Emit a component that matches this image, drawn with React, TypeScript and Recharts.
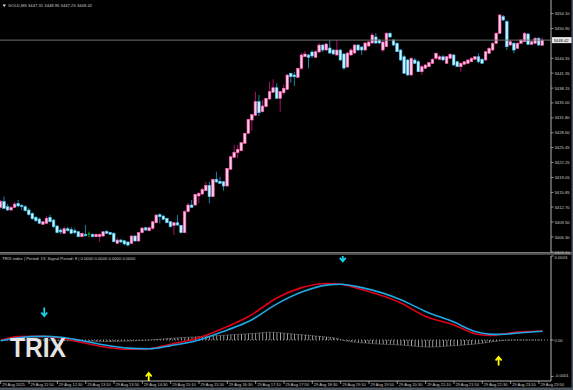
import React from 'react';
import { ComposedChart, Bar, Line, Area, Scatter, XAxis, YAxis, ReferenceLine } from 'recharts';

const FONT = '"Liberation Sans", Arial, sans-serif';
const TXT = '#c8c8c8';
const AXIS = '#b4b4b4';

// GOLD M5, 29 Aug 2025 11:10 .. 23:55 (index = candle number)
const opens = [
  3412.66, 3413.86, 3412.79, 3412.08, 3412.66, 3413.51, 3413.09, 3412.79, 3412.08, 3411.37,
  3410.52, 3410.16, 3409.02, 3409.24, 3410.52, 3409.94, 3408.66, 3407.80, 3407.10, 3408.08,
  3407.95, 3407.65, 3407.44, 3406.37, 3406.88, 3406.95, 3406.88, 3406.37, 3406.37, 3406.52,
  3407.53, 3407.31, 3407.10, 3404.96, 3405.66, 3405.51, 3405.24, 3404.96, 3406.52, 3405.45,
  3407.23, 3408.29, 3407.65, 3408.17, 3409.36, 3411.08, 3410.80, 3410.31, 3409.58, 3408.81,
  3409.36, 3408.81, 3407.23, 3411.72, 3413.15, 3413.15, 3415.08, 3415.50, 3416.21, 3417.36,
  3414.93, 3418.65, 3418.22, 3418.13, 3417.21, 3420.79, 3423.35, 3424.34, 3424.76, 3426.35,
  3428.49, 3431.33, 3432.34, 3435.25, 3433.11, 3434.18, 3435.82, 3437.26, 3438.24, 3435.97,
  3437.17, 3437.90, 3441.32, 3440.96, 3440.47, 3442.39, 3444.87, 3445.24, 3445.88, 3444.74,
  3445.88, 3447.37, 3446.30, 3446.73, 3446.30, 3445.24, 3446.30, 3445.45, 3442.67, 3445.24,
  3445.66, 3447.37, 3446.95, 3446.30, 3447.16, 3447.80, 3449.09, 3448.44, 3446.30, 3447.01,
  3449.88, 3448.44, 3447.74, 3446.30, 3444.87, 3444.17, 3440.96, 3444.17, 3443.80, 3441.66,
  3442.39, 3442.73, 3443.46, 3444.53, 3444.32, 3444.87, 3443.46, 3444.53, 3445.24, 3443.80,
  3442.73, 3443.25, 3443.46, 3443.80, 3444.32, 3444.87, 3444.32, 3444.17, 3445.60, 3446.30,
  3447.74, 3449.88, 3453.43, 3452.36, 3447.37, 3447.74, 3446.67, 3447.74, 3448.08, 3449.73,
  3447.52, 3447.74, 3448.81, 3447.31,
];
const highs = [
  3414.22, 3414.93, 3413.36, 3412.94, 3413.86, 3414.22, 3413.36, 3413.09, 3412.51, 3411.55,
  3410.80, 3410.43, 3409.73, 3410.80, 3411.08, 3410.16, 3408.87, 3408.17, 3408.51, 3408.51,
  3408.44, 3408.17, 3407.59, 3407.23, 3408.87, 3407.44, 3407.05, 3407.05, 3407.10, 3407.59,
  3407.80, 3407.44, 3407.38, 3406.09, 3405.94, 3405.66, 3405.39, 3406.67, 3406.73, 3407.38,
  3408.38, 3408.44, 3408.51, 3409.73, 3411.08, 3411.33, 3410.95, 3410.43, 3409.73, 3409.51,
  3411.01, 3408.87, 3412.08, 3413.64, 3414.22, 3415.57, 3416.00, 3416.79, 3418.13, 3418.13,
  3418.78, 3420.27, 3419.20, 3418.28, 3421.13, 3423.63, 3425.98, 3425.98, 3426.63, 3428.62,
  3431.61, 3432.62, 3437.39, 3436.68, 3435.61, 3436.10, 3439.52, 3440.04, 3439.18, 3437.54,
  3438.82, 3441.11, 3441.45, 3441.66, 3442.52, 3445.66, 3446.16, 3445.45, 3446.30, 3446.30,
  3447.80, 3447.59, 3447.80, 3448.44, 3446.52, 3448.44, 3446.52, 3445.66, 3445.88, 3446.73,
  3447.59, 3447.59, 3447.16, 3448.02, 3448.23, 3449.94, 3449.94, 3448.66, 3448.23, 3450.16,
  3450.22, 3448.66, 3448.02, 3446.52, 3445.24, 3444.38, 3444.81, 3444.59, 3444.17, 3443.10,
  3443.31, 3443.74, 3444.59, 3445.88, 3445.24, 3445.24, 3445.02, 3445.66, 3445.45, 3443.95,
  3443.74, 3443.95, 3444.38, 3444.81, 3445.02, 3445.60, 3444.59, 3446.09, 3446.95, 3448.02,
  3450.16, 3454.01, 3453.79, 3452.72, 3448.44, 3448.02, 3448.02, 3448.66, 3450.16, 3449.94,
  3448.23, 3449.09, 3449.09, 3448.95,
];
const lows = [
  3412.40, 3412.29, 3411.87, 3411.87, 3412.51, 3412.66, 3412.08, 3411.76, 3410.90, 3409.94,
  3409.51, 3409.09, 3408.87, 3409.09, 3409.36, 3408.23, 3407.10, 3406.95, 3406.95, 3407.44,
  3406.95, 3406.95, 3406.24, 3406.24, 3406.41, 3406.24, 3406.24, 3406.24, 3405.30, 3406.31,
  3406.95, 3406.73, 3405.17, 3404.81, 3404.96, 3404.59, 3404.23, 3404.81, 3405.30, 3405.30,
  3407.10, 3407.59, 3407.53, 3407.80, 3409.24, 3409.24, 3409.94, 3409.24, 3408.38, 3406.73,
  3408.66, 3407.10, 3407.10, 3411.59, 3412.51, 3412.94, 3413.58, 3415.29, 3416.08, 3413.51,
  3414.80, 3417.92, 3417.64, 3416.21, 3417.07, 3420.64, 3423.20, 3423.14, 3424.64, 3426.20,
  3428.34, 3429.04, 3432.19, 3432.19, 3432.98, 3434.05, 3435.67, 3437.11, 3435.82, 3433.11,
  3436.68, 3437.75, 3439.31, 3438.60, 3440.32, 3442.03, 3444.81, 3442.39, 3444.59, 3444.59,
  3445.66, 3445.88, 3446.09, 3445.45, 3445.24, 3445.02, 3443.95, 3442.03, 3442.45, 3445.02,
  3445.45, 3446.09, 3445.24, 3446.09, 3446.95, 3447.59, 3447.59, 3447.59, 3445.88, 3446.95,
  3448.87, 3447.16, 3445.88, 3443.95, 3441.17, 3440.74, 3440.74, 3443.31, 3441.60, 3440.96,
  3442.24, 3442.67, 3443.31, 3444.17, 3444.17, 3443.95, 3443.31, 3444.38, 3442.88, 3442.67,
  3441.66, 3443.10, 3443.31, 3443.74, 3444.17, 3443.46, 3443.31, 3443.95, 3445.45, 3446.09,
  3447.59, 3449.73, 3452.51, 3446.30, 3447.16, 3445.60, 3446.52, 3447.59, 3448.02, 3447.37,
  3447.37, 3447.59, 3447.16, 3447.25,
];
const closes = [
  3413.86, 3412.44, 3412.08, 3412.66, 3413.36, 3412.94, 3412.79, 3411.93, 3411.08, 3410.22,
  3409.79, 3409.24, 3409.58, 3410.31, 3409.58, 3408.51, 3407.23, 3407.38, 3408.08, 3407.65,
  3407.10, 3407.23, 3406.37, 3407.10, 3406.58, 3406.95, 3406.37, 3406.88, 3406.88, 3407.44,
  3407.10, 3406.88, 3405.30, 3405.66, 3405.24, 3404.81, 3404.59, 3406.52, 3405.45, 3407.23,
  3408.23, 3407.80, 3408.29, 3409.58, 3411.01, 3410.65, 3410.09, 3409.36, 3408.51, 3409.36,
  3408.87, 3407.23, 3411.72, 3413.15, 3412.66, 3415.44, 3415.65, 3416.51, 3417.36, 3414.93,
  3418.65, 3418.07, 3417.79, 3417.21, 3421.00, 3423.48, 3424.42, 3425.06, 3426.48, 3428.49,
  3431.48, 3432.47, 3435.25, 3432.89, 3434.33, 3435.97, 3437.39, 3438.24, 3435.97, 3437.39,
  3438.11, 3440.96, 3440.59, 3440.59, 3442.39, 3445.24, 3445.45, 3444.74, 3445.02, 3445.94,
  3447.37, 3446.30, 3447.59, 3445.66, 3445.45, 3446.30, 3444.17, 3442.45, 3445.66, 3446.30,
  3447.37, 3446.30, 3446.30, 3447.80, 3448.02, 3449.51, 3447.80, 3447.80, 3448.02, 3449.88,
  3449.09, 3447.37, 3445.94, 3444.17, 3441.32, 3440.96, 3444.53, 3443.46, 3441.66, 3442.73,
  3443.10, 3443.59, 3444.32, 3445.60, 3444.87, 3444.17, 3444.87, 3445.39, 3443.10, 3442.73,
  3443.46, 3443.80, 3444.17, 3444.53, 3444.87, 3443.80, 3443.46, 3445.94, 3446.67, 3447.74,
  3449.88, 3453.79, 3452.72, 3447.01, 3448.08, 3446.30, 3447.74, 3448.44, 3449.88, 3447.52,
  3448.08, 3448.81, 3447.37, 3448.42,
];

const priceTicks = [
  3454.1, 3450.9, 3444.55, 3441.35, 3438.15, 3435.0, 3431.8, 3428.6,
  3425.45, 3422.25, 3419.05, 3415.85, 3412.7, 3409.5, 3406.3, 3403.1,
];
const lastPrice = 3448.42;

const timeTickIdx = [0, 8, 16, 24, 32, 40, 48, 56, 64, 72, 80, 88, 96, 104, 112, 120, 128, 136, 144, 152];
const timeLabels = [
  '29 Aug 2025', '29 Aug 11:50', '29 Aug 12:30', '29 Aug 13:10', '29 Aug 13:50', '29 Aug 14:30',
  '29 Aug 15:10', '29 Aug 15:50', '29 Aug 16:30', '29 Aug 17:10', '29 Aug 17:50', '29 Aug 18:30',
  '29 Aug 19:10', '29 Aug 19:50', '29 Aug 20:30', '29 Aug 21:10', '29 Aug 21:50', '29 Aug 22:30',
  '29 Aug 23:10', '29 Aug 23:50',
];

// TRIX sub-window, values in units of 0.0001
const trixIdx = [0, 5, 12, 17, 22, 28, 36, 42, 48, 56, 64, 70, 78, 85, 92, 96, 102, 113, 120, 128, 134, 138, 141, 146, 153];
const trixVals = [-0.02, 0.12, 0.13, 0.07, -0.06, -0.22, -0.33, -0.31, -0.15, 0.08, 0.48, 0.84, 1.5, 1.87, 2.02, 1.99, 1.8, 1.32, 0.84, 0.54, 0.22, 0.16, 0.2, 0.28, 0.32];
const signalVals = [-0.03, 0.08, 0.13, 0.1, 0.0, -0.15, -0.29, -0.31, -0.2, 0.0, 0.36, 0.66, 1.29, 1.71, 1.96, 1.99, 1.87, 1.44, 1.02, 0.64, 0.3, 0.21, 0.2, 0.25, 0.31];

const histIdx = [0, 12, 20, 30, 42, 48, 56, 64, 72, 76, 82, 89, 95, 97, 104, 113, 121, 128, 135, 140, 145, 153];
const histVals = [0, 0, -0.03, -0.05, 0, 0.06, 0.12, 0.18, 0.24, 0.28, 0.22, 0.14, 0.05, -0.02, -0.12, -0.18, -0.25, -0.2, -0.13, -0.04, 0, 0];

const sellIdx = [12.3, 96.6];
const sellVals = [1.0, 2.95];
const buyIdx = [41.8, 140.6];
const buyVals = [-1.32, -0.75];

const X_DOMAIN: [number, number] = [-0.2, 155.4];
const E4 = 1e-4;

const candles = opens.map((o, i) => ({ idx: i, o, h: highs[i], l: lows[i], c: closes[i] }));
const trixData = trixIdx.map((idx, i) => ({ idx, trix: trixVals[i] * E4, signal: signalVals[i] * E4 }));
const histData = histIdx.map((idx, i) => ({ idx, v: histVals[i] * E4 }));
const sellPts = sellIdx.map((idx, i) => ({ idx, v: sellVals[i] * E4 }));
const buyPts = buyIdx.map((idx, i) => ({ idx, v: buyVals[i] * E4 }));

function Candle(props: any) {
  const { x, y, width, height, payload } = props;
  if (x == null || !payload) return null;
  const { o, h, l, c } = payload;
  const top = height < 0 ? y + height : y;
  const span = Math.abs(height);
  const k = h > l ? span / (h - l) : 0;
  const cx = x + width / 2;
  const yo = top + (h - o) * k;
  const yc = top + (h - c) * k;
  const bodyTop = Math.min(yo, yc);
  const bodyH = Math.max(Math.abs(yo - yc), 0.9);
  if (c === o) {
    return (
      <g>
        <line x1={cx} x2={cx} y1={top} y2={top + span} stroke="#119a11" strokeWidth={1} />
        <line x1={cx - 1.3} x2={cx + 1.3} y1={yo} y2={yo} stroke="#22c022" strokeWidth={1} />
      </g>
    );
  }
  const up = c > o;
  return (
    <g>
      <line x1={cx} x2={cx} y1={top} y2={top + span} stroke={up ? '#a8126a' : '#1682a6'} strokeWidth={1} />
      <rect
        x={cx - 1.3}
        y={bodyTop}
        width={2.6}
        height={bodyH}
        fill={up ? '#ffc6e6' : '#c8f2ff'}
        stroke={up ? '#ff5aae' : '#3cc0ee'}
        strokeWidth={0.6}
      />
    </g>
  );
}

function PriceTick(props: any) {
  const { x, y, payload } = props;
  return (
    <g>
      <line x1={x} x2={x + 2.5} y1={y} y2={y} stroke={AXIS} strokeWidth={0.8} />
      <text x={x + 3.5} y={y + 1.5} fontSize={4.2} fontFamily={FONT} fill={TXT}>
        {Number(payload.value).toFixed(2)}
      </text>
    </g>
  );
}

function LastPriceTag(props: any) {
  const vb = props.viewBox || {};
  const x0 = vb.x + vb.width + 1;
  const y0 = vb.y;
  return (
    <g>
      <rect x={x0} y={y0 - 3} width={20} height={6} fill="#e8e8e8" />
      <text x={x0 + 1.5} y={y0 + 1.6} fontSize={4.2} fontFamily={FONT} fill="#000">
        {lastPrice.toFixed(2)}
      </text>
    </g>
  );
}

function TimeTick(props: any) {
  const { x, y, payload } = props;
  const i = timeTickIdx.indexOf(payload.value);
  return (
    <g>
      <line x1={x} x2={x} y1={y} y2={y + 3} stroke={AXIS} strokeWidth={0.8} />
      <text x={x + 1.5} y={y + 5.2} fontSize={4} fontFamily={FONT} fill={TXT}>
        {i >= 0 ? timeLabels[i] : ''}
      </text>
    </g>
  );
}

const trixTickText: Record<string, string> = { '0.0003': '0.0003', '0': '0.00', '-0.00013': '-0.0001' };

function TrixTick(props: any) {
  const { x, y, payload } = props;
  const v = payload.value;
  const label = trixTickText[String(v)] ?? String(v);
  const dy = v > 0 ? 3 : v < 0 ? 0.5 : 1.5;
  return (
    <g>
      <line x1={x} x2={x + 2.5} y1={y} y2={y} stroke={AXIS} strokeWidth={0.8} />
      <text x={x + 3.5} y={y + dy} fontSize={4.2} fontFamily={FONT} fill={TXT}>
        {label}
      </text>
    </g>
  );
}

function DownArrow(props: any) {
  const { cx, cy } = props;
  return (
    <path
      d={`M${cx} ${cy - 4.5} L${cx} ${cy + 3.5} M${cx - 3} ${cy + 0.5} L${cx} ${cy + 4} L${cx + 3} ${cy + 0.5}`}
      stroke="#18d0f0"
      strokeWidth={1.8}
      fill="none"
    />
  );
}

function UpArrow(props: any) {
  const { cx, cy } = props;
  return (
    <path
      d={`M${cx} ${cy + 4.5} L${cx} ${cy - 3.5} M${cx - 3} ${cy - 0.5} L${cx} ${cy - 4} L${cx + 3} ${cy - 0.5}`}
      stroke="#ffff00"
      strokeWidth={1.8}
      fill="none"
    />
  );
}

export default function App() {
  return (
    <div style={{ position: 'absolute', left: 0, top: 0, width: 573, height: 390, background: '#000', overflow: 'hidden' }}>
      <div style={{ position: 'absolute', left: 0, top: 0 }}>
        <ComposedChart width={573} height={256} data={candles} margin={{ top: 0, right: 0, bottom: 4, left: 0 }}>
          <XAxis type="number" dataKey="idx" domain={X_DOMAIN} ticks={timeTickIdx} hide allowDataOverflow />
          <YAxis
            orientation="right"
            width={22}
            domain={[3403.1, 3457.0]}
            ticks={priceTicks}
            interval={0}
            allowDataOverflow
            tickSize={0}
            tickMargin={0}
            tickLine={false}
            axisLine={{ stroke: AXIS }}
            tick={<PriceTick />}
          />
          <ReferenceLine y={lastPrice} stroke="#707070" strokeWidth={1} label={<LastPriceTag />} />
          <Bar dataKey={(d: any) => [d.l, d.h]} barSize={3} shape={<Candle />} isAnimationActive={false} />
        </ComposedChart>
      </div>

      <div style={{ position: 'absolute', left: 0, top: 255 }}>
        <ComposedChart width={573} height={135} margin={{ top: 1, right: 0, bottom: 0, left: 0 }}>
          <defs>
            <pattern id="histHatch" x={0.3} y={0} width={3.541} height={400} patternUnits="userSpaceOnUse">
              <rect x={0} y={0} width={0.8} height={400} fill="#bdbdbd" />
            </pattern>
          </defs>
          <XAxis
            type="number"
            dataKey="idx"
            domain={X_DOMAIN}
            ticks={timeTickIdx}
            interval={0}
            height={9}
            allowDataOverflow
            tickSize={0}
            tickMargin={0}
            tickLine={false}
            axisLine={{ stroke: AXIS }}
            tick={<TimeTick />}
          />
          <YAxis
            orientation="right"
            width={22}
            domain={[-0.0001464, 0.0003]}
            ticks={[0.0003, 0, -0.00013]}
            interval={0}
            allowDataOverflow
            tickSize={0}
            tickMargin={0}
            tickLine={false}
            axisLine={{ stroke: AXIS }}
            tick={<TrixTick />}
          />
          <ReferenceLine y={0} stroke="#8c8c8c" strokeDasharray="1 2" />
          <Area
            data={histData}
            dataKey="v"
            type="monotone"
            baseValue={0}
            fill="url(#histHatch)"
            fillOpacity={1}
            stroke="#a0a0a0"
            strokeWidth={0.8}
            strokeDasharray="1 1"
            isAnimationActive={false}
          />
          <Line data={trixData} dataKey="trix" type="monotone" stroke="#e0001a" strokeWidth={1.6} dot={false} isAnimationActive={false} />
          <Line data={trixData} dataKey="signal" type="monotone" stroke="#1ea8e4" strokeWidth={1.6} dot={false} isAnimationActive={false} />
          <Scatter data={sellPts} dataKey="v" shape={<DownArrow />} isAnimationActive={false} />
          <Scatter data={buyPts} dataKey="v" shape={<UpArrow />} isAnimationActive={false} />
        </ComposedChart>
      </div>

      <svg width={573} height={390} style={{ position: 'absolute', left: 0, top: 0, pointerEvents: 'none' }}>
        <path d="M2.5 4.5 L6 4.5 L4.25 7 Z" fill="#e0e0e0" />
        <text x={8} y={7.3} fontSize={4.2} fontFamily={FONT} fill={TXT}>
          GOLD,M5  3447.31 3448.95 3447.25 3448.42
        </text>
        <rect x={0} y={252.3} width={573} height={1.2} fill="#a8a8a8" />
        <rect x={0} y={254} width={573} height={0.8} fill="#5a5a5a" />
        <text x={2} y={260} fontSize={4.2} fontFamily={FONT} fill={TXT}>
          TRIX index | Period: 13, Signal Period: 8 |  0.0000 0.0000 0.0000 0.0000
        </text>
        <text x={10} y={357} fontSize={27} fontWeight="bold" fontFamily={FONT} fill="#e4e4e4" textLength={56} lengthAdjust="spacingAndGlyphs">
          TRIX
        </text>
        <rect x={0} y={387.5} width={573} height={2.5} fill="#4c5660" />
        <rect x={571.5} y={0} width={1.5} height={390} fill="#4c5660" />
      </svg>
    </div>
  );
}
